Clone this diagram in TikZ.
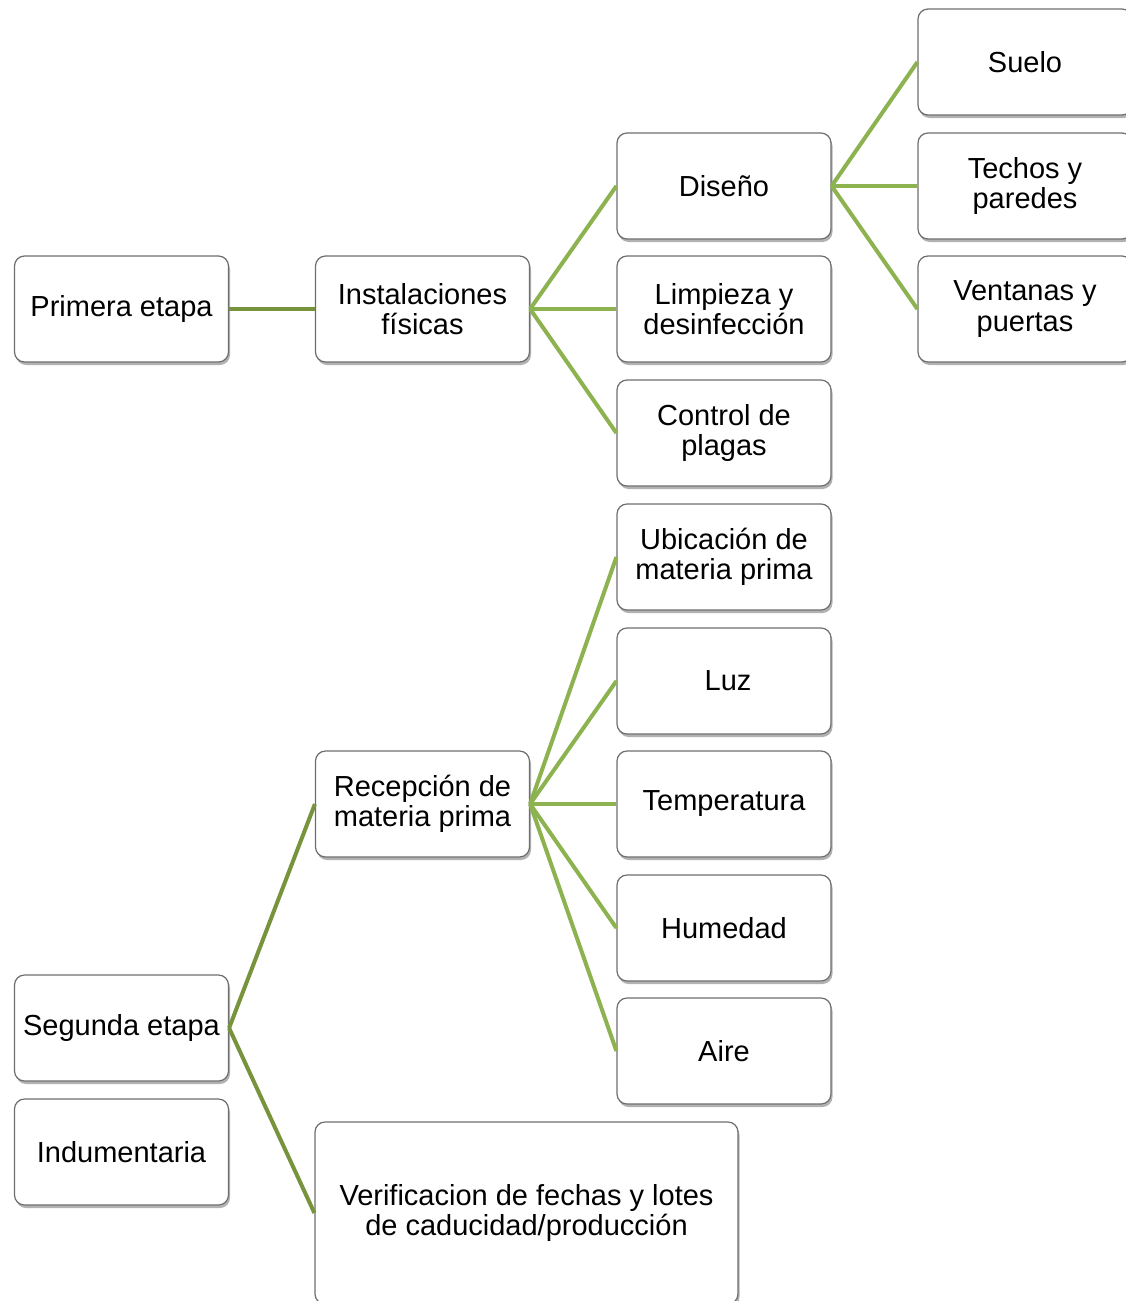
\documentclass[tikz,border=0pt]{standalone}
\usepackage{fontspec}
\setmainfont{Liberation Sans}
\usetikzlibrary{shadows}
\definecolor{olivedark}{RGB}{119,147,60}
\definecolor{olivelight}{RGB}{141,178,80}
\definecolor{boxline}{RGB}{110,110,110}
\tikzset{
  box/.style={draw=boxline, line width=1.2pt, rounded corners=10pt, fill=white,
    minimum width=214pt, minimum height=106pt, align=center, inner sep=2pt,
    font=\fontsize{29}{30.5}\selectfont,
    drop shadow={shadow xshift=1.5pt, shadow yshift=-3pt, opacity=0.3, fill=black}},
  linkA/.style={draw=olivedark, line width=4pt},
  linkB/.style={draw=olivelight, line width=4pt}
}
\begin{document}
\begin{tikzpicture}[x=1pt, y=-1pt]
\useasboundingbox (0,0) rectangle (1126,1301);
% first stage
\node[box] (primera) at (121.5,309) {Primera etapa};
\node[box] (inst) at (422.5,309) {Instalaciones\\físicas};
\node[box] (diseno) at (724,186) {Diseño};
\node[box] (limp) at (724,309) {Limpieza y\\desinfección};
\node[box] (plagas) at (724,433) {Control de\\plagas};
\node[box] (suelo) at (1025,62) {Suelo};
\node[box] (techos) at (1025,186) {Techos y\\paredes};
\node[box] (ventanas) at (1025,309) {Ventanas y\\puertas};
% second stage
\node[box] (ubic) at (724,557) {Ubicación de\\materia prima};
\node[box] (luz) at (724,681) {\hspace{8pt}Luz};
\node[box] (temp) at (724,804) {Temperatura};
\node[box] (hum) at (724,928) {Humedad};
\node[box] (aire) at (724,1051) {Aire};
\node[box] (recep) at (422.5,804) {Recepción de\\materia prima};
\node[box] (segunda) at (121.5,1028) {Segunda etapa};
\node[box] (indum) at (121.5,1152) {Indumentaria};
\node[box, minimum width=423pt, minimum height=182pt] (verif) at (526.5,1213)
  {Verificacion de fechas y lotes\\de caducidad/producción};
% connectors
\draw[linkA] (primera.east) -- (inst.west);
\draw[linkB] (inst.east) -- (diseno.west);
\draw[linkB] (inst.east) -- (limp.west);
\draw[linkB] (inst.east) -- (plagas.west);
\draw[linkB] (diseno.east) -- (suelo.west);
\draw[linkB] (diseno.east) -- (techos.west);
\draw[linkB] (diseno.east) -- (ventanas.west);
\draw[linkA] (segunda.east) -- (recep.west);
\draw[linkA] (segunda.east) -- (verif.west);
\draw[linkB] (recep.east) -- (ubic.west);
\draw[linkB] (recep.east) -- (luz.west);
\draw[linkB] (recep.east) -- (temp.west);
\draw[linkB] (recep.east) -- (hum.west);
\draw[linkB] (recep.east) -- (aire.west);
\end{tikzpicture}
\end{document}
